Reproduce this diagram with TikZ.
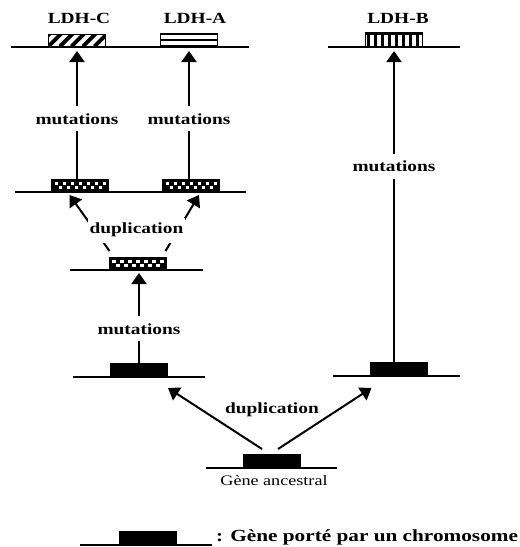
\documentclass[tikz,border=0pt]{standalone}
\usepackage{fontspec}
\setmainfont[FakeStretch=1.25]{Liberation Serif}
\usetikzlibrary{arrows.meta}
\begin{document}
\begin{tikzpicture}[x=1pt,y=-1pt,
  chrom/.style={line width=1.4pt},
  arr/.style={line width=2pt,-{Triangle[length=11pt,width=15pt]}},
  gene/.style={rectangle, draw, line width=1pt, minimum width=57pt, minimum height=12pt, inner sep=0pt, anchor=south},
  solidgene/.style={gene, fill=black, minimum height=13pt},
  checker/.style={gene, fill=black, path picture={
      \foreach \i in {0,...,6}{
        \fill[white] ([xshift={(3+8*\i)*1pt}, yshift=-2.5pt]path picture bounding box.north west) rectangle ++(3.5,3);}
      \foreach \i in {0,...,5}{
        \fill[white] ([xshift={(7+8*\i)*1pt}, yshift=-6.5pt]path picture bounding box.north west) rectangle ++(3.5,3);}
  }},
  hatch/.style={gene, line width=1.2pt, path picture={
      \foreach \i in {-2,...,5}{
        \draw[line width=4pt] ([xshift={(\i*11.5)*1pt}]path picture bounding box.south west) -- ++(13,-13);}
  }},
  hlines/.style={gene, line width=1.6pt, path picture={
      \draw[line width=1.6pt] (path picture bounding box.west) -- (path picture bounding box.east);
  }},
  vbars/.style={gene, minimum height=14pt, line width=1.2pt, path picture={
      \fill ([yshift=-1pt]path picture bounding box.north west) rectangle ([yshift=-3pt]path picture bounding box.north east);
      \foreach \i in {0,...,7}{
        \fill ([xshift={(1+7*\i)*1pt}]path picture bounding box.south west) rectangle ++(3,-14);}
  }},
  lbl/.style={font=\fontsize{15.5}{18}\selectfont\bfseries, inner xsep=2pt, inner ysep=0pt},
  gaplbl/.style={lbl, fill=white, minimum height=25pt},
]
\useasboundingbox (0,0) rectangle (520,547);

% chromosomes
\draw[chrom] (11,47) -- (249,47);
\draw[chrom] (328,47) -- (460,47);
\draw[chrom] (15,192) -- (246,192);
\draw[chrom] (70,270) -- (203,270);
\draw[chrom] (73,377) -- (205,377);
\draw[chrom] (333,376) -- (460,376);
\draw[chrom] (206,468) -- (337,468);
\draw[chrom] (80,545) -- (212,545);

% genes
\node[hatch] (c1) at (77,47) {};
\node[hlines] (a1) at (189,47) {};
\node[vbars] (b1) at (394,47) {};
\node[checker] (c2) at (80,192) {};
\node[checker] (a2) at (191,192) {};
\node[checker] (p3) at (137.5,270) {};
\node[solidgene] (g4) at (139,377) {};
\node[solidgene] (g5) at (399,376) {};
\node[solidgene] (g0) at (271.5,468) {};
\node[solidgene] (leg) at (148,545) {};

% labels
\node[lbl] (tc) at (79,18) {LDH-C};
\node[lbl] (ta) at (195,18) {LDH-A};
\node[lbl] (tb) at (398,18) {LDH-B};
\node[font=\fontsize{14.5}{17}\selectfont, inner sep=0pt] (tg) at (274,481) {Gène ancestral};
\node[font=\fontsize{17}{20}\selectfont\bfseries, inner sep=0pt, anchor=west] (tl) at (216,537) {: Gène porté par un chromosome};

% arrows
\draw[arr] (c2.north -| c1.south) -- node[gaplbl, pos=0.47] (m1) {mutations} ([yshift=-4pt]c1.south);
\draw[arr] (a2.north -| a1.south) -- node[gaplbl, pos=0.47] (m2) {mutations} ([yshift=-4pt]a1.south);
\draw[arr] (g5.north -| b1.south) -- node[gaplbl, pos=0.63] (m3) {mutations} ([yshift=-4pt]b1.south);
\draw[arr] (g4.north) -- node[gaplbl, pos=0.38] (m4) {mutations} ([yshift=-3pt]p3.south -| g4.north);

\draw[arr] ([xshift=1pt,yshift=6pt]p3.north west) -- ([xshift=18.5pt,yshift=-3pt]c2.south west);
\draw[arr] ([xshift=-1pt,yshift=6pt]p3.north east) -- ([xshift=-21pt,yshift=-3pt]a2.south east);
\node[gaplbl] (d1) at (136.5,230) {duplication};

\draw[arr] ([xshift=-9.5pt,yshift=5pt]g0.north) -- ([yshift=-11pt]g4.south east);
\draw[arr] ([xshift=6.5pt,yshift=5pt]g0.north) -- ([xshift=1.5pt,yshift=-12pt]g5.south west);
\node[lbl] (d2) at (272,410) {duplication};
\end{tikzpicture}
\end{document}
